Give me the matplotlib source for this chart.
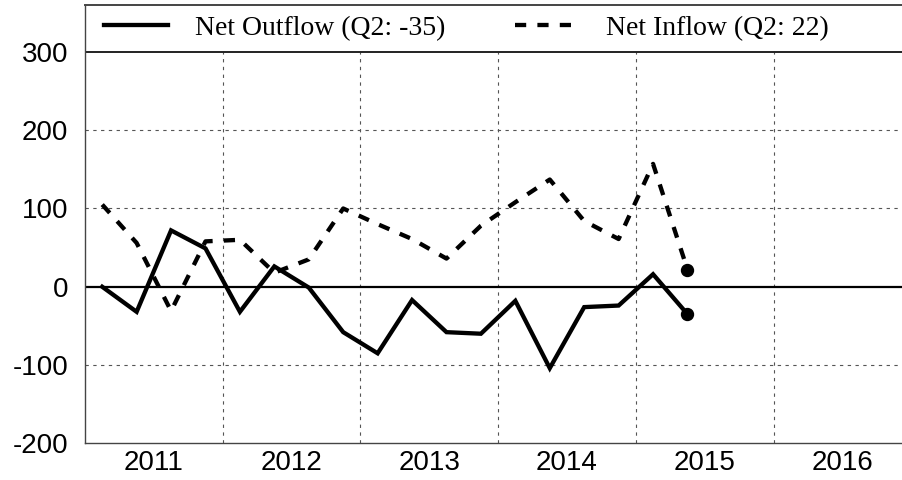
import matplotlib

matplotlib.use("Agg")
import matplotlib.pyplot as plt
import numpy as np

# quarterly data, 2011Q1 .. 2015Q2
quarters = [
    "2011Q1", "2011Q2", "2011Q3", "2011Q4",
    "2012Q1", "2012Q2", "2012Q3", "2012Q4",
    "2013Q1", "2013Q2", "2013Q3", "2013Q4",
    "2014Q1", "2014Q2", "2014Q3", "2014Q4",
    "2015Q1", "2015Q2",
]
net_outflow = [0, -32, 72, 49, -32, 26, -1, -58, -85, -17, -58, -60, -18, -104, -26, -24, 16, -35]
net_inflow = [105, 56, -31, 58, 60, 18, 35, 100, 80, 61, 36, 78, 108, 137, 84, 61, 157, 22]
year_labels = ["2011", "2012", "2013", "2014", "2015", "2016"]
y_ticks = [-200, -100, 0, 100, 200, 300]

# quarter centre positions in fractional years
x = np.array([int(q[:4]) + (int(q[-1]) - 0.5) / 4 for q in quarters])

plt.rcParams["font.family"] = "Liberation Sans"

fig = plt.figure(figsize=(9.03, 4.8), dpi=100)
ax = fig.add_axes([85 / 903, 1 - 443.3 / 480, 1 - 85 / 903, (443.3 - 5) / 480])

ax.set_xlim(2011, 2016.94)
ax.set_ylim(-200, 360)

grid_kw = dict(color="#555555", lw=0.8, ls=(0, (3, 4)), zorder=1)
for yv in y_ticks[1:-1]:
    if yv != 0:
        ax.axhline(yv, **grid_kw)
# vertical grid stops at the legend band (top tick)
ax.vlines([int(yr) for yr in year_labels[1:]], y_ticks[0], y_ticks[-1], **grid_kw)

ax.axhline(0, color="black", lw=1.6, zorder=2)
ax.axhline(y_ticks[-1], color="#222222", lw=1.4, zorder=2)

l1, = ax.plot(x, net_outflow, color="black", lw=3.1, solid_joinstyle="miter", zorder=3,
              label=f"Net Outflow (Q2: {net_outflow[-1]})")
l2, = ax.plot(x, net_inflow, color="black", lw=3.1, dashes=(2.6, 2.6), zorder=3,
              label=f"Net Inflow (Q2: {net_inflow[-1]})")
ax.plot(x[-1], net_outflow[-1], "o", color="black", ms=8.6, zorder=4)
ax.plot(x[-1], net_inflow[-1], "o", color="black", ms=8.6, zorder=4)

ax.set_yticks(y_ticks)
ax.set_yticklabels([str(v) for v in y_ticks])
ax.set_xticks([int(y) + 0.5 for y in year_labels])
ax.set_xticklabels(year_labels)
ax.tick_params(axis="both", length=0, labelsize=20)
ax.tick_params(axis="y", pad=12)
ax.tick_params(axis="x", pad=5)

for side in ["left", "bottom", "top"]:
    ax.spines[side].set_color("#444444")
    ax.spines[side].set_linewidth(1.0)
ax.spines["top"].set_linewidth(1.4)
ax.spines["right"].set_visible(False)

ax.legend(handles=[l1, l2], loc="center left", ncol=2, frameon=False,
          bbox_to_anchor=(2011.138, 330), bbox_transform=ax.transData,
          borderpad=0, borderaxespad=0, handlelength=2.3, handletextpad=0.98,
          columnspacing=2.5, prop={"family": "Liberation Serif", "size": 20})

fig.savefig("out.png", dpi=100)
